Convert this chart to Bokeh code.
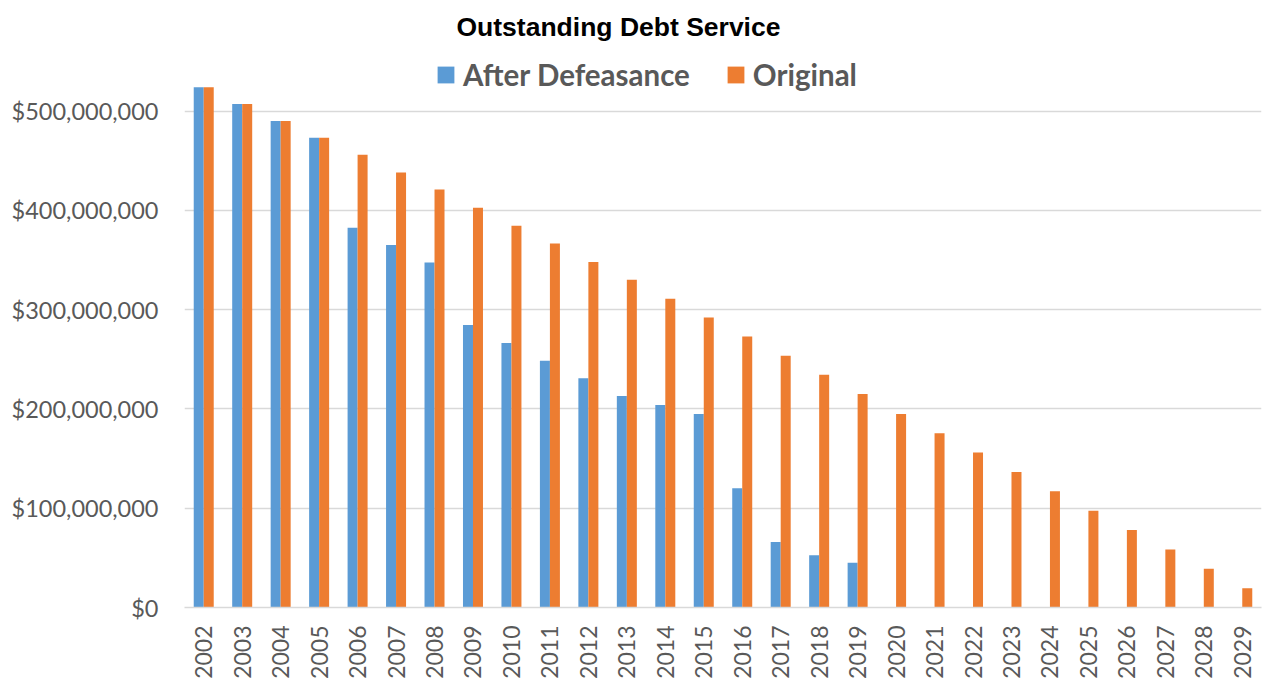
import math
from bokeh.plotting import figure
from bokeh.models import ColumnDataSource, FactorRange, Range1d, FixedTicker, NumeralTickFormatter, Legend, LegendItem
from bokeh.transform import dodge
from bokeh.embed import file_html
from bokeh.resources import INLINE

nan = float("nan")

title_text = "Outstanding Debt Service"

years = ["2002", "2003", "2004", "2005", "2006", "2007", "2008", "2009", "2010",
         "2011", "2012", "2013", "2014", "2015", "2016", "2017", "2018", "2019",
         "2020", "2021", "2022", "2023", "2024", "2025", "2026", "2027", "2028", "2029"]

after_defeasance = [524e6, 507e6, 490e6, 473e6, 382.5e6, 365e6, 347.5e6, 284.5e6, 266.5e6,
                    248.5e6, 231e6, 213e6, 204e6, 195e6, 120e6, 66e6, 52.5e6, 45e6,
                    nan, nan, nan, nan, nan, nan, nan, nan, nan, nan]

original = [524e6, 507e6, 490e6, 473e6, 456e6, 438e6, 421e6, 402.5e6, 384.5e6,
            366.5e6, 348e6, 330e6, 311e6, 292e6, 273e6, 253.5e6, 234.5e6, 215e6,
            195e6, 175.5e6, 156e6, 136.5e6, 117e6, 97.5e6, 78e6, 58.5e6, 39e6, 19.5e6]

y_ticks = [0, 100e6, 200e6, 300e6, 400e6, 500e6]

source = ColumnDataSource(data=dict(years=years, after=after_defeasance, original=original))

BLUE = "#5B9BD5"
ORANGE = "#ED7D31"
GRAY = "#595959"
GRID = "#D9D9D9"
FONT = "Lato"

p = figure(width=1263, height=687, x_range=FactorRange(*years),
           y_range=Range1d(0, 566e6), output_backend="svg", toolbar_location=None,
           min_border_left=184, min_border_right=2, min_border_top=45, min_border_bottom=80)

r1 = p.vbar(x=dodge("years", -0.13, range=p.x_range), top="after", width=0.26,
            source=source, fill_color=BLUE, line_color=None)
r2 = p.vbar(x=dodge("years", 0.13, range=p.x_range), top="original", width=0.26,
            source=source, fill_color=ORANGE, line_color=None)

p.title.text = title_text
p.title.align = "left"
p.title.offset = 272
p.title.standoff = 8
p.title.text_line_height = 0.75
p.title.text_font = "Liberation Sans"
p.title.text_font_style = "bold"
p.title.text_font_size = "26.5px"
p.title.text_color = "#000000"

p.outline_line_color = None
p.xgrid.grid_line_color = None
p.ygrid.grid_line_color = GRID
p.ygrid.grid_line_width = 1.5
p.yaxis.ticker = FixedTicker(ticks=y_ticks)
p.yaxis.formatter = NumeralTickFormatter(format="$0,0")
p.yaxis.axis_line_color = None
p.yaxis.major_tick_line_color = None
p.yaxis.minor_tick_line_color = None
p.yaxis.major_tick_out = 0
p.yaxis.minor_tick_out = 0
p.yaxis.major_label_standoff = 26
p.yaxis.major_label_text_font = FONT
p.yaxis.major_label_text_font_size = "23.5px"
p.yaxis.major_label_text_color = GRAY

p.xaxis.axis_line_color = GRID
p.xaxis.axis_line_width = 1.5
p.xaxis.major_tick_line_color = None
p.xaxis.minor_tick_line_color = None
p.xaxis.major_tick_out = 0
p.xaxis.minor_tick_out = 0
p.xaxis.major_label_orientation = math.pi / 2
p.xaxis.major_label_standoff = 18
p.xaxis.major_label_text_font = FONT
p.xaxis.major_label_text_font_size = "23px"
p.xaxis.major_label_text_color = GRAY

legend = Legend(items=[LegendItem(label="After Defeasance", renderers=[r1]),
                       LegendItem(label="Original", renderers=[r2])],
                orientation="horizontal", location=(251, 515))
legend.label_text_font = FONT
legend.label_text_font_style = "bold"
legend.label_text_font_size = "29.5px"
legend.label_text_color = GRAY
legend.glyph_width = 21
legend.glyph_height = 21
legend.label_standoff = 7
legend.spacing = 35
legend.padding = 0
legend.margin = 0
legend.border_line_color = None
legend.background_fill_alpha = 0
p.add_layout(legend)

open("out.html", "w").write(file_html(p, INLINE))
